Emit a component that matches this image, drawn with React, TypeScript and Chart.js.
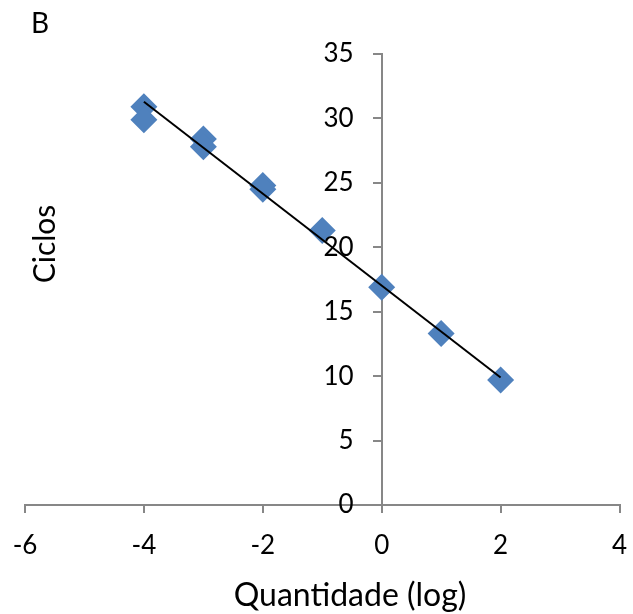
import React, { useEffect, useRef } from 'react';
import { Chart, registerables } from 'chart.js';

Chart.register(...registerables);

const xValues = [-4, -4, -3, -3, -2, -2, -1, 0, 1, 2];
const yValues = [30.9, 29.9, 28.4, 27.8, 24.8, 24.5, 21.3, 16.9, 13.3, 9.7];
const trendX = [-4, 2];
const trendY = [31.3, 9.9];
const xMin = -6;
const xMax = 4;
const xStep = 2;
const yMin = 0;
const yMax = 35;
const yStep = 5;
const panelLabel = 'B';
const xTitle = 'Quantidade (log)';
const yTitle = 'Ciclos';

const FONT = 'Lato';
const AXIS_COLOR = '#878787';
const TICK_SIZE = 26;

const textPlugin = {
  id: 'textPlugin',
  afterDraw(chart: any) {
    const ctx = chart.ctx;
    const ys = chart.scales.y;
    const xs = chart.scales.x;
    const axisX = xs.getPixelForValue(0);
    ctx.save();
    ctx.fillStyle = '#000';
    ctx.textBaseline = 'middle';
    // y tick labels, to the left of the axis crossing x = 0
    ctx.font = `${TICK_SIZE}px ${FONT}`;
    ctx.textAlign = 'right';
    ys.ticks.forEach((t: any) => {
      ctx.fillText(String(t.value), axisX - 28, ys.getPixelForValue(t.value));
    });
    ctx.font = `28px ${FONT}`;
    ctx.textAlign = 'left';
    ctx.fillText(panelLabel, 31, 24);
    ctx.textAlign = 'center';
    ctx.font = `32px ${FONT}`;
    ctx.fillText(xTitle, 350, 596);
    ctx.font = `30px ${FONT}`;
    ctx.translate(45, 244);
    ctx.rotate(-Math.PI / 2);
    ctx.fillText(yTitle, 0, 0);
    ctx.restore();
  },
};

export default function App() {
  const ref = useRef<HTMLCanvasElement>(null);
  useEffect(() => {
    if (!ref.current) return;
    const chart = new Chart(ref.current, {
      type: 'scatter',
      data: {
        datasets: [
          {
            label: 'trend',
            data: trendX.map((x, i) => ({ x, y: trendY[i] })),
            showLine: true,
            borderColor: '#000',
            borderWidth: 2,
            pointRadius: 0,
            fill: false,
          },
          {
            label: 'Ciclos',
            data: xValues.map((x, i) => ({ x, y: yValues[i] })),
            pointStyle: 'rectRot',
            pointRadius: 13.5,
            backgroundColor: '#4F81BD',
            borderColor: '#4F81BD',
            borderWidth: 0,
          },
        ],
      },
      options: {
        animation: false,
        responsive: false,
        layout: { padding: { left: 25, right: 12, top: 54, bottom: 0 } },
        plugins: { legend: { display: false }, tooltip: { enabled: false }, title: { display: false } },
        scales: {
          x: {
            type: 'linear',
            position: 'bottom',
            min: xMin,
            max: xMax,
            ticks: { stepSize: xStep, color: '#000', font: { family: FONT, size: TICK_SIZE }, padding: 17 },
            grid: { drawOnChartArea: false, drawTicks: true, tickLength: 8, color: AXIS_COLOR, lineWidth: 2 },
            border: { color: AXIS_COLOR, width: 2 },
            afterFit: (s: any) => {
              s.height = 109;
              s.paddingLeft = 0;
              s.paddingRight = 0;
            },
          },
          y: {
            type: 'linear',
            position: { x: 0 } as any,
            min: yMin,
            max: yMax,
            ticks: { stepSize: yStep, display: false },
            grid: { drawOnChartArea: false, drawTicks: true, tickLength: 8, color: AXIS_COLOR, lineWidth: 2 },
            border: { color: AXIS_COLOR, width: 2 },
            afterFit: (s: any) => {
              s.paddingLeft = 0;
              s.paddingRight = 0;
              s.paddingTop = 0;
              s.paddingBottom = 0;
            },
          },
        },
      },
      plugins: [textPlugin],
    });
    return () => chart.destroy();
  }, []);
  return (
    <div style={{ position: 'fixed', left: 0, top: 0, width: 633, height: 614, background: '#fff' }}>
      <canvas ref={ref} width={633} height={614} style={{ display: 'block' }} />
    </div>
  );
}
